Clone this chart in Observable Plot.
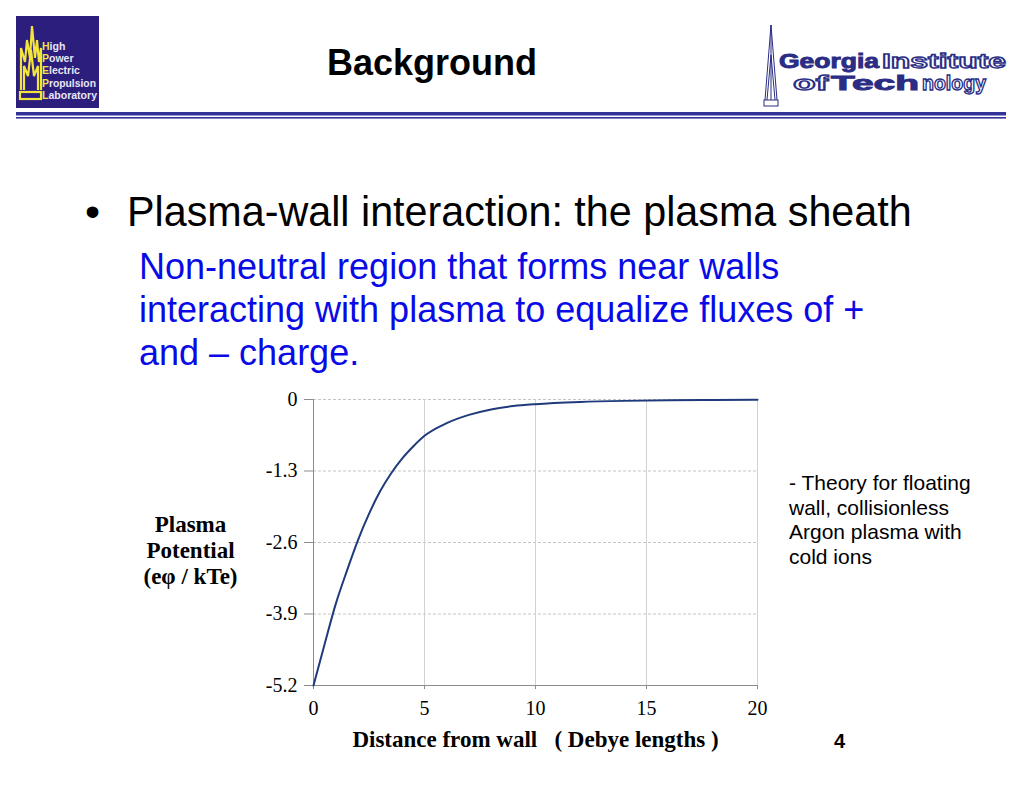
<!DOCTYPE html>
<html><head><meta charset="utf-8">
<script src="https://cdn.jsdelivr.net/npm/d3@7"></script>
<script src="https://cdn.jsdelivr.net/npm/@observablehq/plot@0.6"></script>
<style>
body{margin:0;background:#fff;width:1024px;height:791px;overflow:hidden;position:relative;font-family:"Liberation Sans",Arial,sans-serif}
.abs{position:absolute;white-space:nowrap;line-height:1}
</style></head><body>
<svg class="abs" style="left:0;top:0" width="1024" height="130">
  <rect x="16" y="16" width="83" height="92" fill="#2b1e7c"/>
  <g fill="none" stroke="#f2e43a" stroke-width="2.2">
    <polyline points="21,90 21,48 25,62 27,40 30,58 32,26 35,58 37,40 39,62 41,48 41,90"/>
    <polyline points="24,90 24,66 28,76 31,50 34,76 38,66 38,90"/>
    <rect x="20" y="92" width="21" height="7"/>
  </g>
  <g font-family="Liberation Sans, Arial, sans-serif" font-size="10.5" font-weight="bold" fill="#e8e6f5">
    <text x="42" y="50"><tspan fill="#f2e43a">H</tspan>igh</text>
    <text x="42" y="62"><tspan fill="#f2e43a">P</tspan>ower</text>
    <text x="42" y="74"><tspan fill="#f2e43a">E</tspan>lectric</text>
    <text x="42" y="87" textLength="54" lengthAdjust="spacingAndGlyphs"><tspan fill="#f2e43a">P</tspan>ropulsion</text>
    <text x="42" y="99" textLength="55" lengthAdjust="spacingAndGlyphs"><tspan fill="#f2e43a">L</tspan>aboratory</text>
  </g>
  <rect x="16" y="112" width="990" height="3.5" fill="#33339a"/>
  <rect x="16" y="117" width="990" height="1.6" fill="#33339a"/>
  <g fill="none" stroke="#2b2d84" stroke-width="1">
    <polyline points="765,100 771,25 777,100"/>
    <polyline points="767,100 771,55 775,100"/>
    <line x1="771" y1="25" x2="771" y2="100"/>
    <rect x="764" y="100" width="14" height="6"/>
  </g>
  <g font-family="Liberation Sans, Arial, sans-serif" font-weight="bold" font-size="19.5">
    <text x="779" y="68" fill="#2b2d84" stroke="#2b2d84" stroke-width="0.9" textLength="100" lengthAdjust="spacingAndGlyphs">Georgia</text>
    <text x="882" y="68" fill="#fff" stroke="#2b2d84" stroke-width="1.3" textLength="124" lengthAdjust="spacingAndGlyphs">Institute</text>
    <text x="793" y="90" fill="#fff" stroke="#2b2d84" stroke-width="1.3" textLength="35" lengthAdjust="spacingAndGlyphs">of</text>
    <text x="831" y="90" fill="#2b2d84" stroke="#2b2d84" stroke-width="0.9" textLength="88" lengthAdjust="spacingAndGlyphs">Tech</text>
    <text x="922" y="90" fill="#fff" stroke="#2b2d84" stroke-width="1.3" textLength="64" lengthAdjust="spacingAndGlyphs">nology</text>
  </g>
</svg>
<div class="abs" style="left:327px;top:45px;font-size:36px;font-weight:bold">Background</div>
<div class="abs" style="left:85px;top:190px;font-size:43px">•</div>
<div class="abs" style="left:127px;top:190px;font-size:43px;transform:scaleX(0.96);transform-origin:0 0">Plasma-wall interaction: the plasma sheath</div>
<div class="abs" style="left:139px;top:245px;font-size:36px;color:#0a0ae6;line-height:43px">Non-neutral region that forms near walls<br>interacting with plasma to equalize fluxes of +<br>and – charge.</div>
<div class="abs" style="left:789px;top:471px;font-size:21px;line-height:24.6px">- Theory for floating<br>wall, collisionless<br>Argon plasma with<br>cold ions</div>
<div class="abs" style="left:834px;top:731px;font-size:20px;font-weight:bold">4</div>
<div id="chart"></div>
<script>
const distance = [0, 0.5, 1, 1.5, 2, 2.5, 3, 3.5, 4, 4.5, 5, 6, 7, 8, 9, 10, 12, 14, 16, 18, 20];
const potential = [-5.2, -4.45, -3.72, -3.12, -2.56, -2.08, -1.67, -1.34, -1.07, -0.85, -0.66, -0.43, -0.28, -0.18, -0.12, -0.085, -0.045, -0.025, -0.015, -0.01, -0.006];
const xTicks = [0, 5, 10, 15, 20];
const yTicks = [0, -1.3, -2.6, -3.9, -5.2];
const xLabel = "Distance from wall   ( Debye lengths )";
const yLabel = "Plasma\nPotential\n(eφ / kTe)";

const data = distance.map((d, i) => ({x: d, y: potential[i]}));

const chart = Plot.plot({
  width: 660, height: 390,
  marginLeft: 173, marginRight: 43, marginTop: 19, marginBottom: 85,
  style: {fontFamily: "'Liberation Serif', 'Times New Roman', serif", fontSize: "20px", color: "#000", background: "transparent", overflow: "visible"},
  x: {domain: [0, 20], label: null},
  y: {domain: [-5.2, 0], label: null},
  marks: [
    Plot.gridY(yTicks, {stroke: "#c4c4c4", strokeOpacity: 1, strokeDasharray: "3,2"}),
    Plot.gridX(xTicks.slice(1), {stroke: "#d2d2d2", strokeOpacity: 1}),
    Plot.ruleX([0], {stroke: "#8c8c8c"}),
    Plot.ruleY([-5.2], {stroke: "#8c8c8c"}),
    Plot.axisX(xTicks, {label: null, tickSize: 4, tickPadding: 11, stroke: "#8c8c8c", fill: "#000", fontSize: 20}),
    Plot.axisY(yTicks, {label: null, tickSize: 9, tickPadding: 7, stroke: "#8c8c8c", fill: "#000", fontSize: 20, tickFormat: d => String(d)}),
    Plot.line(data, {x: "x", y: "y", stroke: "#1f3b7b", strokeWidth: 2, curve: "monotone-x"}),
    Plot.text([xLabel], {frameAnchor: "bottom", lineAnchor: "middle", dy: 54, fontWeight: "bold", fontSize: 23, fill: "#000"}),
    Plot.text([yLabel], {frameAnchor: "left", textAnchor: "middle", dx: -123, dy: 7, lineHeight: 1.15, fontWeight: "bold", fontSize: 23, fill: "#000"})
  ]
});
chart.style.position = "absolute";
chart.style.left = "140px";
chart.style.top = "380px";
document.getElementById("chart").appendChild(chart);
</script>
</body></html>
